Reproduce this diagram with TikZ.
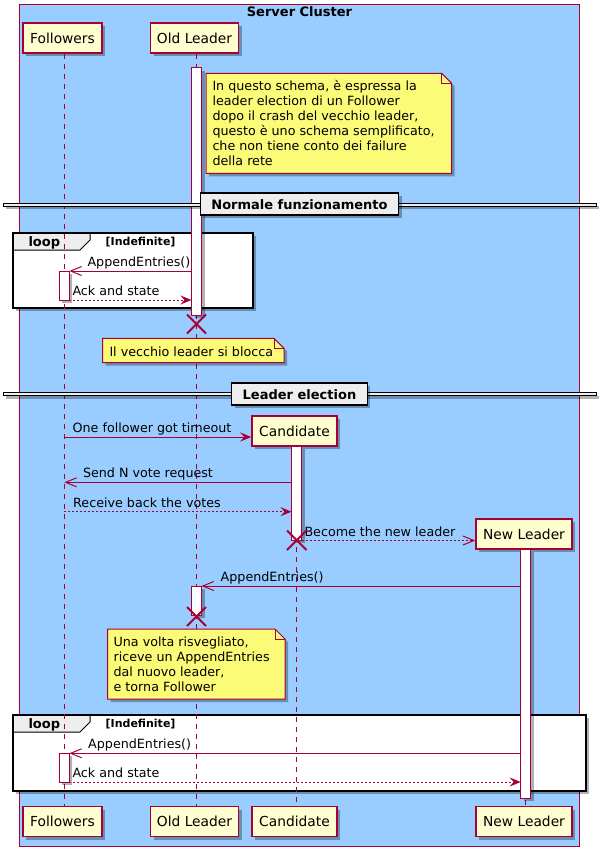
\documentclass[tikz,border=0pt]{standalone}
\usepackage{fontspec}
\setmainfont{DejaVu Sans}
\usetikzlibrary{arrows.meta,shadows}
\definecolor{crim}{HTML}{A80036}
\definecolor{clus}{HTML}{99CCFF}
\definecolor{pfill}{HTML}{FEFECE}
\definecolor{nfill}{HTML}{FBFB77}
\definecolor{gfill}{HTML}{EEEEEE}
\newcommand\fmsg{\fontsize{12.7}{15}\selectfont}
\newcommand\fbig{\fontsize{13.8}{16}\selectfont}
\newcommand\fbold{\bfseries\fontsize{13}{15}\selectfont}
\newcommand\fsmall{\bfseries\fontsize{11}{13}\selectfont}
\tikzset{
  shad/.style={fill=black,opacity=0.3},
  myshadow/.style={drop shadow={shadow xshift=3pt,shadow yshift=-3pt,fill=black,opacity=0.3}},
  part/.style={draw=crim,line width=1.5pt,fill=pfill,minimum height=30pt,inner xsep=0pt,inner ysep=0pt,font=\fbig,myshadow},
  life/.style={draw=crim,line width=1pt,dash pattern=on 5pt off 5pt},
  actbx/.style={draw=crim,fill=white,line width=1pt},
  msg/.style={draw=crim,line width=1pt},
  fullhead/.style={-{Stealth[length=11pt,width=9pt,inset=4pt]}},
  openhead/.style={-{Straight Barb[length=11pt,width=9pt]}},
  dashmsg/.style={dash pattern=on 2pt off 2pt},
  lbl/.style={anchor=base west,inner sep=0pt,font=\fmsg},
  notebox/.style={draw=crim,fill=nfill,line width=1pt},
  killx/.style={draw=crim,line width=1.8pt},
  loopframe/.style={draw=black,line width=1.8pt},
  tabbox/.style={draw=black,line width=1pt,fill=gfill},
  divbox/.style={draw=black,line width=1.5pt,fill=gfill,font=\fbold,minimum height=22pt,inner xsep=11pt,inner ysep=0pt,myshadow},
}
\newcommand\actbox[4]{%
  \fill[shad,shift={(3,3)}] (#1,#2) rectangle (#3,#4);
  \draw[actbx] (#1,#2) rectangle (#3,#4);}
\newcommand\notepath[4]{(#1,#2) -- (#3-10,#2) -- (#3,#2+10) -- (#3,#4) -- (#1,#4) -- cycle}
\newcommand\drawnote[4]{%
  \fill[shad,shift={(3,3)}] \notepath{#1}{#2}{#3}{#4};
  \draw[notebox] \notepath{#1}{#2}{#3}{#4};
  \draw[crim,line width=1pt] (#3-10,#2) -- (#3-10,#2+10) -- (#3,#2+10);}
\newcommand\drawloop[4]{%
  \fill[shad,shift={(3,3)}] (#1,#2) rectangle (#3,#4);
  \fill[white] (#1,#2) rectangle (#3,#4);
  \draw[tabbox] (#1,#2) -- (90,#2) -- (90,#2+7) -- (80,#2+17) -- (#1,#2+17) -- cycle;
  \draw[loopframe] (#1,#2) rectangle (#3,#4);}
\newcommand\drawdiv[1]{%
  \fill[shad,shift={(3,3)}] (3,#1-1.5) rectangle (596,#1+1.5);
  \draw[black,line width=1pt,fill=gfill] (3,#1-1.5) rectangle (596,#1+1.5);}
\begin{document}
\begin{tikzpicture}[x=1pt,y=-1pt,font=\fmsg]
\useasboundingbox (0,0) rectangle (606,856);
% cluster
\fill[clus] (19,4.5) rectangle (579.5,846);
\draw[crim,line width=1pt] (19,4.5) rectangle (579.5,846);
\node[anchor=base,inner sep=0pt,font=\fbold] (title) at (299.5,16.5) {Server Cluster};

% loops
\drawloop{13}{233}{253}{308}
\node[anchor=base west,inner sep=0pt,font=\fbold] (loopa) at (28.3,246.7) {loop};
\node[anchor=base west,inner sep=0pt,font=\fsmall] (conda) at (105.5,245.5) {[Indefinite]};
\drawloop{13}{715}{586}{791}
\node[anchor=base west,inner sep=0pt,font=\fbold] (loopb) at (28.3,728.7) {loop};
\node[anchor=base west,inner sep=0pt,font=\fsmall] (condb) at (105.5,727.5) {[Indefinite]};

% participants
\node[part,minimum width=79pt] (folT) at (62.5,38) {Followers};
\node[part,minimum width=88pt] (oldT) at (194.5,38) {Old Leader};
\node[part,minimum width=85pt] (cand) at (294.5,431) {Candidate};
\node[part,minimum width=96pt] (newl) at (524,534) {New Leader};
\node[part,minimum width=79pt] (folB) at (62.5,821.5) {Followers};
\node[part,minimum width=88pt] (oldB) at (194.5,821.5) {Old Leader};
\node[part,minimum width=85pt] (candB) at (294.5,821.5) {Candidate};
\node[part,minimum width=96pt] (newB) at (524,821.5) {New Leader};

% lifelines
\coordinate (folx) at (64.3,0);
\coordinate (oldx) at (196.5,0);
\coordinate (candx) at (296.5,0);
\coordinate (newx) at (525.7,0);
\draw[life] (folT.south -| folx) -- (folB.north -| folx);
\draw[life] (oldT.south -| oldx) -- (oldB.north -| oldx);
\draw[life] (cand.south -| candx) -- (candB.north -| candx);
\draw[life] (newl.south -| newx) -- (newB.north -| newx);

% activations
\actbox{191.5}{68}{201.5}{315}
\actbox{59.3}{271}{69.3}{300}
\actbox{291.5}{446}{301.5}{540}
\actbox{191.5}{586}{201.5}{615}
\actbox{520.7}{549}{530.7}{798}
\actbox{59.3}{753}{69.3}{782}

% dividers
\drawdiv{204.7}
\node[divbox] (div1) at (299.5,204.2) {Normale funzionamento};
\drawdiv{394.3}
\node[divbox] (div2) at (299.5,394.2) {Leader election};

% messages
\coordinate (m1s) at (191.5,271); \coordinate (m1e) at (69.3,271);
\draw[msg,openhead] (m1s) -- (m1e);
\node[lbl] (l1) at (87.3,266) {AppendEntries()};
\coordinate (m2s) at (69.3,300); \coordinate (m2e) at (191.5,300);
\draw[msg,dashmsg,fullhead] (m2s) -- (m2e);
\node[lbl] (l2) at (72.3,295.5) {Ack and state};

\coordinate (m3s) at (64.3,437); \coordinate (m3e) at (cand.west |- m3s);
\draw[msg,fullhead] (m3s) -- (m3e);
\node[lbl] (l3) at (72.5,432.3) {One follower got timeout};
\coordinate (m4s) at (291.5,482.3); \coordinate (m4e) at (64.3,482.3);
\draw[msg,openhead] (m4s) -- (m4e);
\node[lbl] (l4) at (82.8,477.3) {Send N vote request};
\coordinate (m5s) at (64.3,511.7); \coordinate (m5e) at (291.5,511.7);
\draw[msg,dashmsg,fullhead] (m5s) -- (m5e);
\node[lbl] (l5) at (73,507) {Receive back the votes};
\coordinate (m6s) at (301.5,540.5); \coordinate (m6e) at (newl.west |- m6s);
\draw[msg,dashmsg,openhead] (m6s) -- (m6e);
\node[lbl] (l6) at (304.3,536) {Become the new leader};
\coordinate (m7s) at (520.7,586); \coordinate (m7e) at (201.5,586);
\draw[msg,openhead] (m7s) -- (m7e);
\node[lbl] (l7) at (220.5,581) {AppendEntries()};
\coordinate (m8s) at (520.7,753.3); \coordinate (m8e) at (69.3,753.3);
\draw[msg,openhead] (m8s) -- (m8e);
\node[lbl] (l8) at (88,748.5) {AppendEntries()};
\coordinate (m9s) at (69.3,782); \coordinate (m9e) at (520.7,782);
\draw[msg,dashmsg,fullhead] (m9s) -- (m9e);
\node[lbl] (l9) at (72.3,777.5) {Ack and state};

% notes
\drawnote{206}{73.3}{451.7}{173.3}
\foreach \t [count=\i] in {{In questo schema, è espressa la},{leader election di un Follower},{dopo il crash del vecchio leader,},{questo è uno schema semplificato,},{che non tiene conto dei failure},{della rete}}
  \node[lbl] (na\i) at (212.3,75.5+15*\i) {\t};
\drawnote{102.7}{338.3}{284}{362.7}
\node[lbl] (nb1) at (109.3,356) {Il vecchio leader si blocca};
\drawnote{107.5}{629}{285}{699}
\foreach \t [count=\i] in {{Una volta risvegliato,},{riceve un AppendEntries},{dal nuovo leader,},{e torna Follower}}
  \node[lbl] (nc\i) at (113.4,631+15*\i) {\t};

% destroy marks
\draw[killx] (187,314.5) -- (206,333.5) (187,333.5) -- (206,314.5);
\draw[killx] (287,530.5) -- (306.5,550) (287,550) -- (306.5,530.5);
\draw[killx] (187,607) -- (206,626) (187,626) -- (206,607);
\end{tikzpicture}
\end{document}
